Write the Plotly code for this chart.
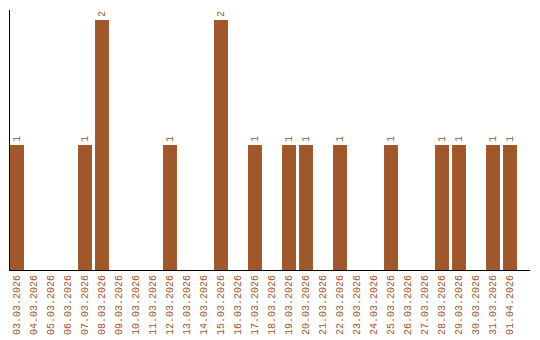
import plotly.graph_objects as go

dates = ["03.03.2026", "04.03.2026", "05.03.2026", "06.03.2026", "07.03.2026",
         "08.03.2026", "09.03.2026", "10.03.2026", "11.03.2026", "12.03.2026",
         "13.03.2026", "14.03.2026", "15.03.2026", "16.03.2026", "17.03.2026",
         "18.03.2026", "19.03.2026", "20.03.2026", "21.03.2026", "22.03.2026",
         "23.03.2026", "24.03.2026", "25.03.2026", "26.03.2026", "27.03.2026",
         "28.03.2026", "29.03.2026", "30.03.2026", "31.03.2026", "01.04.2026"]
counts = [1, 0, 0, 0, 1, 2, 0, 0, 0, 1,
          0, 0, 2, 0, 1, 0, 1, 1, 0, 1,
          0, 0, 1, 0, 0, 1, 1, 0, 1, 1]

color = "#a0572a"
labels = [str(v) if v > 0 else "" for v in counts]

fig = go.Figure(go.Bar(
    x=list(range(len(dates))), y=counts,
    width=0.82,
    marker=dict(color=color, line=dict(width=0)),
    text=labels, textposition="outside", textangle=-90,
    textfont=dict(family="Liberation Mono", size=10, color=color),
    cliponaxis=False,
))

fig.update_layout(
    width=540, height=340,
    margin=dict(l=10, r=10, t=10, b=70, autoexpand=False),
    paper_bgcolor="white", plot_bgcolor="white",
    showlegend=False,
    xaxis=dict(
        tickmode="array", tickvals=list(range(len(dates))), ticktext=dates,
        tickangle=-90, range=[-0.4118, 30.176], automargin=False,
        tickfont=dict(family="Liberation Mono", size=10, color=color),
        showline=True, linecolor="black", linewidth=1,
        showgrid=False, zeroline=False, ticks="",
    ),
    yaxis=dict(
        range=[0, 2.08], showticklabels=False, showgrid=False, automargin=False,
        showline=True, linecolor="black", linewidth=1, zeroline=False, ticks="",
    ),
    uniformtext=dict(minsize=1),
)

fig.write_html("out.html")
